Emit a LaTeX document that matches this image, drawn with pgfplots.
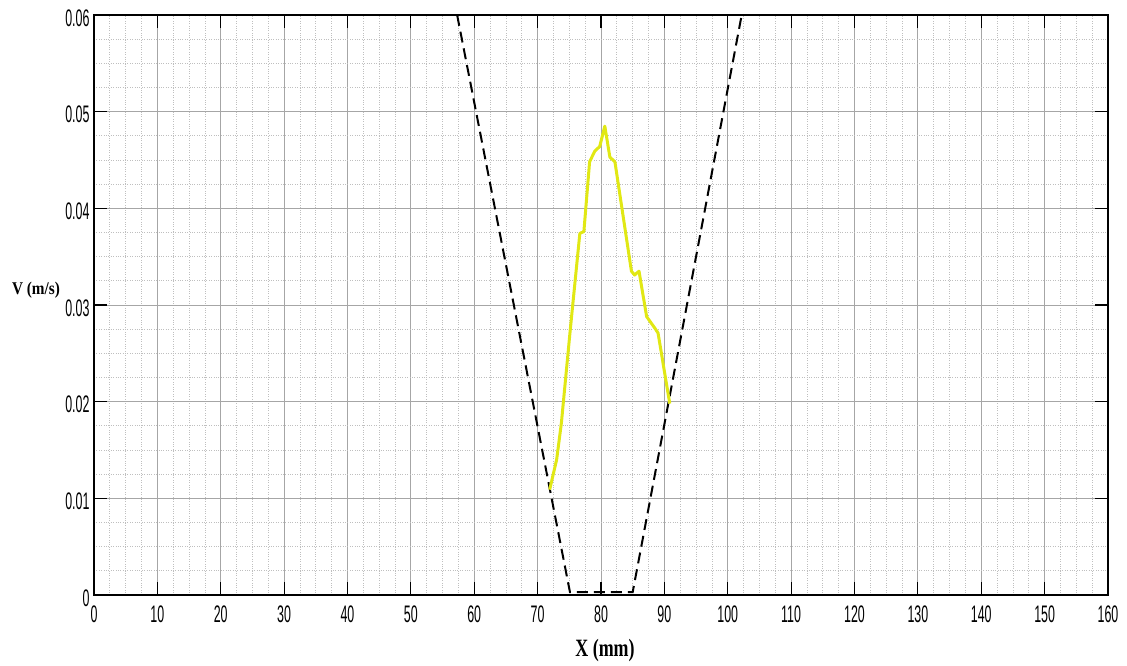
\documentclass[border=0pt]{standalone}
\usepackage{pgfplots}
\pgfplotsset{compat=1.18}
\usepackage{fontspec}
\setmainfont{Liberation Serif}
\newfontfamily\ticks[FakeStretch=0.52]{Liberation Sans}
\newfontfamily\lab[FakeStretch=0.72]{Liberation Serif}
\newfontfamily\vlab[FakeStretch=0.85]{Liberation Serif}
\definecolor{curveyellow}{RGB}{225,232,20}
\begin{document}
\begin{tikzpicture}[x=1bp,y=1bp]
\begin{axis}[
  scale only axis,
  width=1014bp, height=580bp,
  xmin=0, xmax=160, ymin=0, ymax=0.06,
  xtick={0,10,...,160},
  ytick={0,0.01,...,0.06},
  minor x tick num=3,
  minor y tick num=3,
  scaled y ticks=false,
  /pgf/number format/assume math mode=true,
  tick label style={font=\ticks\fontsize{24}{24}\selectfont},
  yticklabels={0,0.01,0.02,0.03,0.04,0.05,0.06},
  xticklabel style={yshift=-7bp},
  yticklabel style={xshift=-1bp, yshift=-3bp},
  tick align=inside,
  major tick length=13bp,
  minor tick length=0pt,
  xtick style={black, line width=1.2bp},
  ytick style={black, line width=1.2bp},
  grid=both,
  major grid style={gray!70, line width=0.8bp},
  minor grid style={gray!50, dotted, line width=0.7bp},
  axis line style={black, line width=1.3bp},
  clip=true,
]
\addplot[black, line width=2bp, dash pattern=on 11bp off 6bp] coordinates {
  (57.3,0.0600) (75.1,0.0003) (85.0,0.0003) (102.2,0.0600)
};
\addplot[curveyellow, line width=3bp, line join=round] coordinates {
  (71.9,0.0109) (73.0,0.0140) (73.75,0.0178) (75.1,0.0271)
  (76.66,0.0374) (77.3,0.0376) (78.2,0.0448) (79.0,0.0459)
  (79.8,0.0464) (80.6,0.0485) (81.4,0.0453) (82.2,0.0448)
  (84.8,0.0335) (85.3,0.0331) (86.0,0.0335) (87.2,0.0288)
  (88.5,0.0276) (89.0,0.0271) (90.85,0.0198)
};
\end{axis}
\node[font=\vlab\bfseries\fontsize{18}{18}\selectfont] at (-58bp,305bp) {V (m/s)};
\node[font=\lab\bfseries\fontsize{25}{25}\selectfont] at (511bp,-56bp) {X (mm)};
\path (-94bp,-71bp) rectangle (1033bp,595bp);
\end{tikzpicture}
\end{document}
